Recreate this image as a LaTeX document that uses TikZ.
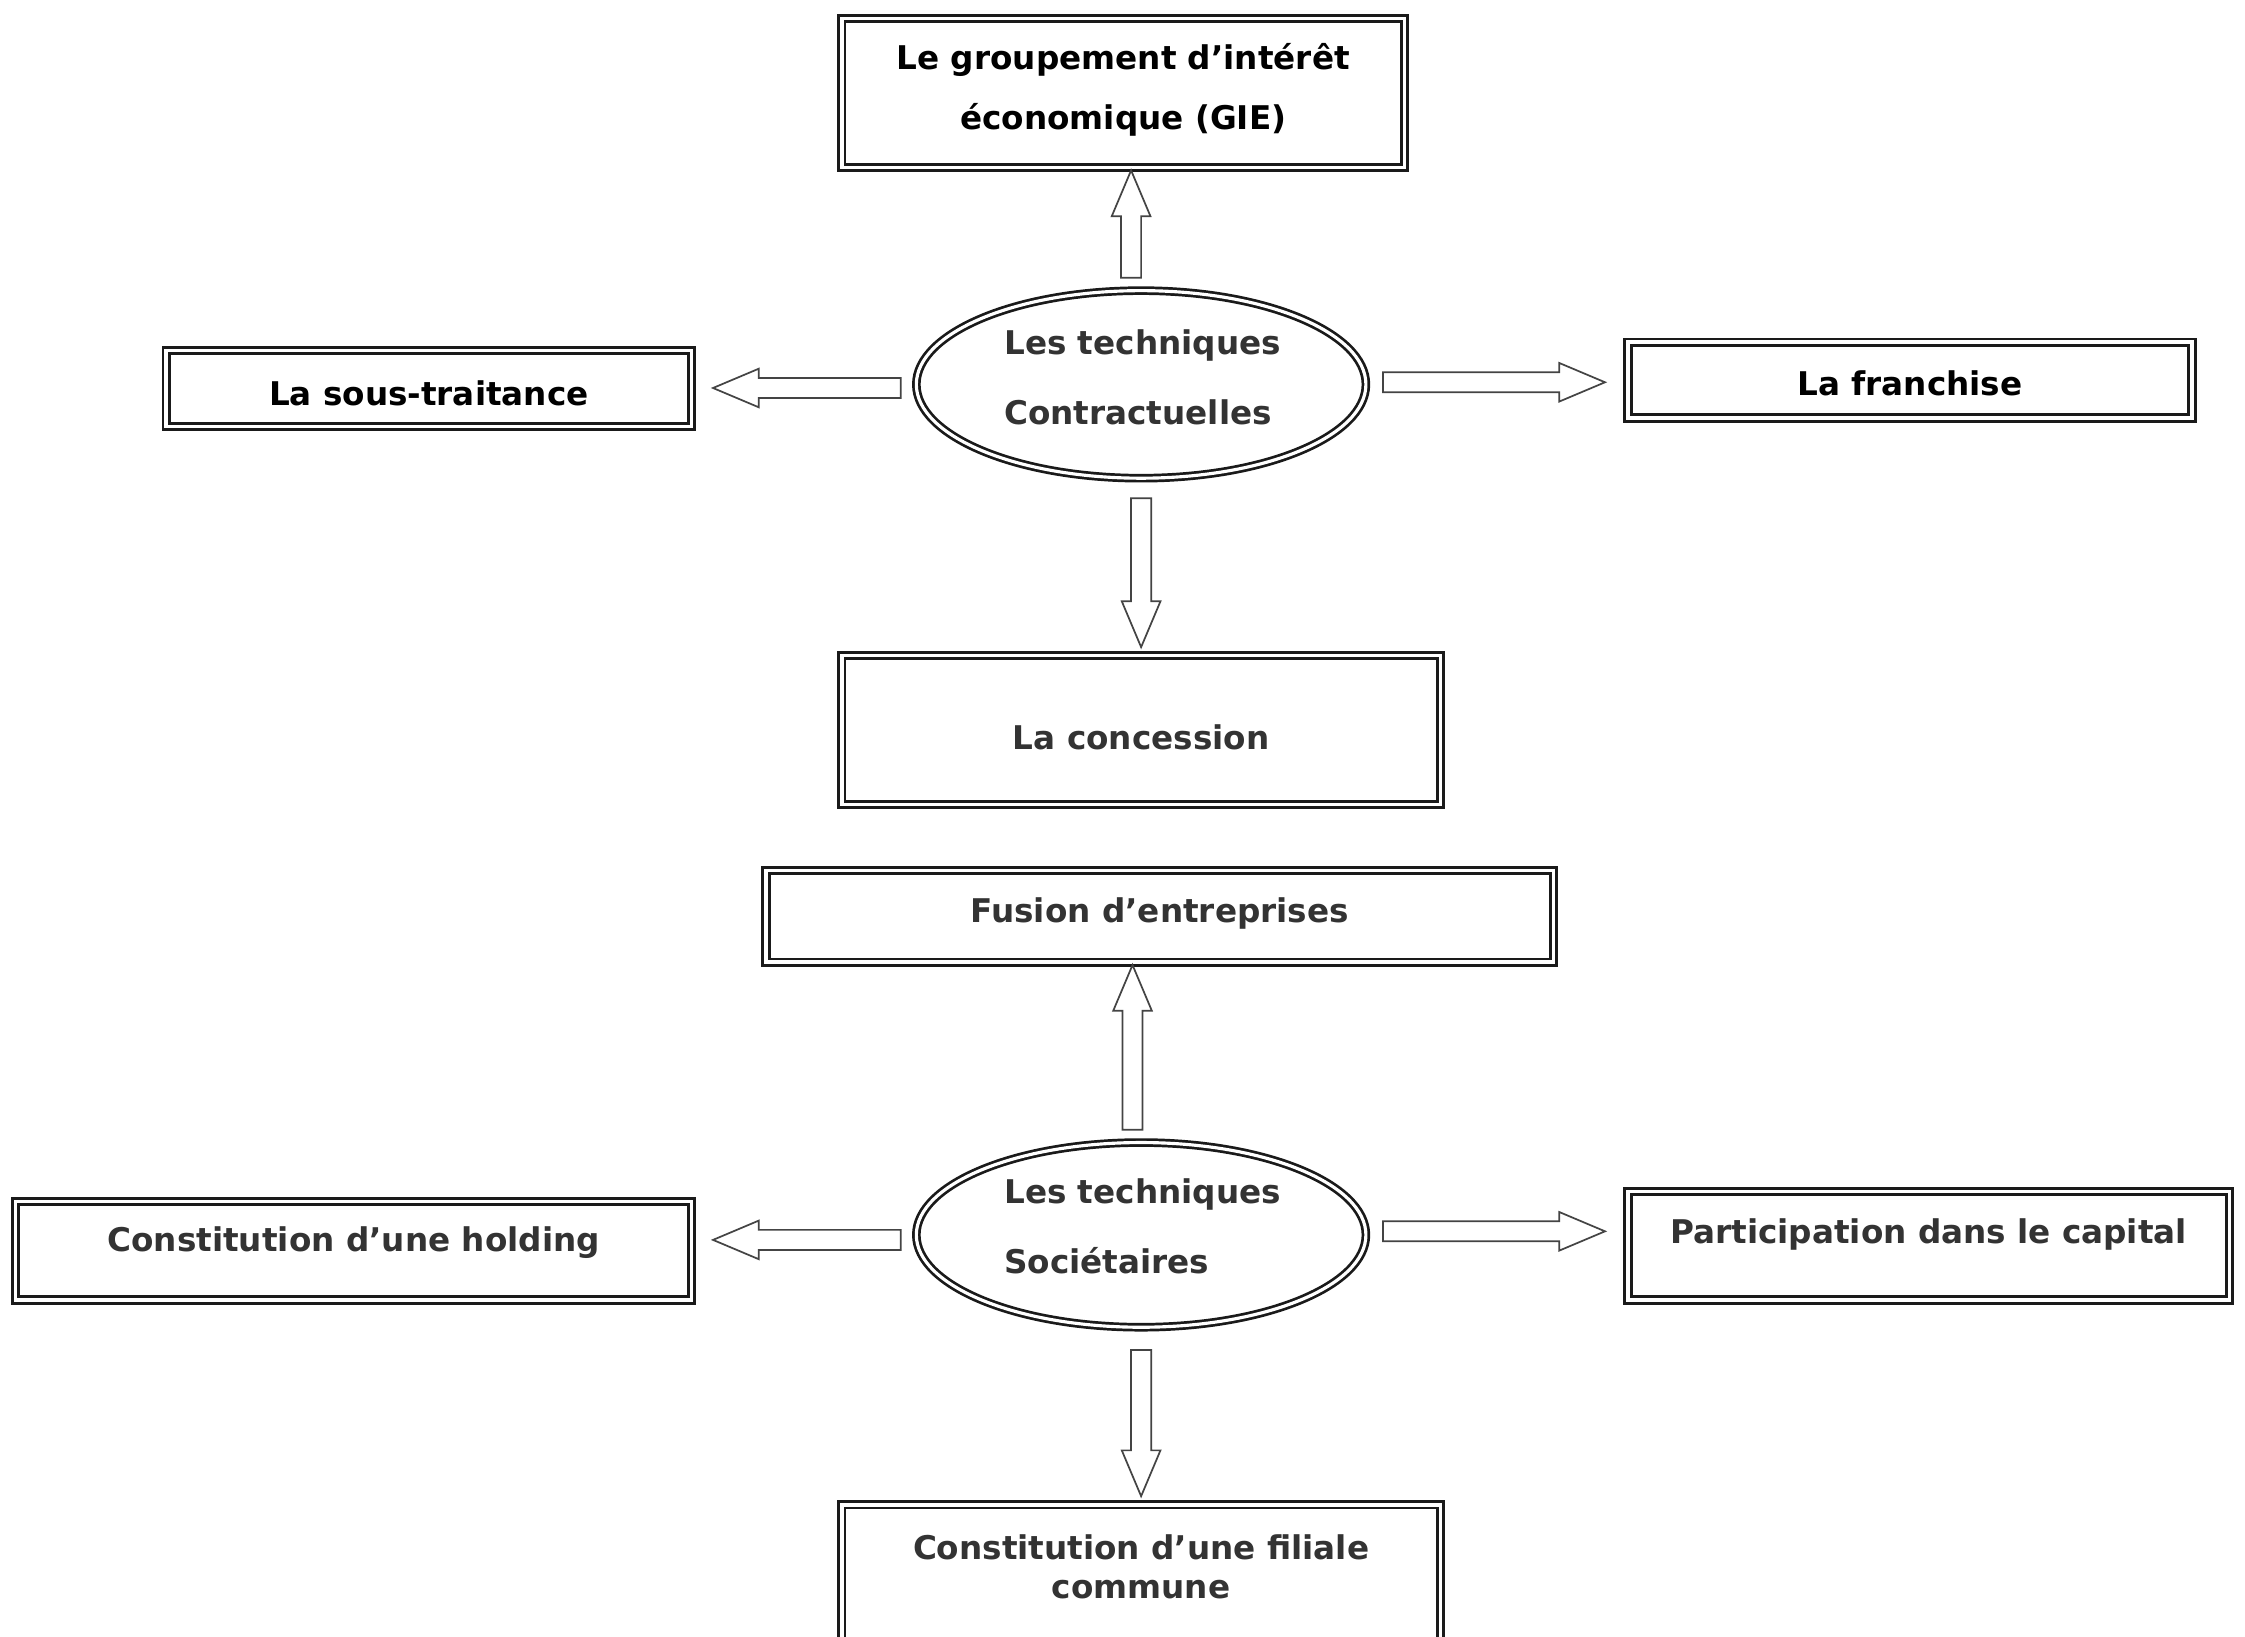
\documentclass[tikz,border=0pt]{standalone}
\usepackage{fontspec}
\setmainfont{DejaVu Sans}
\usetikzlibrary{calc,shapes.geometric}
\definecolor{ink}{HTML}{333333}
\definecolor{frame}{HTML}{1A1A1A}
\definecolor{arr}{HTML}{444444}
\tikzset{
  dbox/.style={draw=frame, double, double distance=1.2pt, line width=1pt, inner sep=0pt, rectangle},
  dell/.style={draw=frame, double, double distance=1.1pt, line width=0.95pt, inner sep=0pt, ellipse},
  txt/.style={inner sep=0pt, text=ink, font=\fontsize{11.4}{13.5}\selectfont\bfseries, align=center},
  txtk/.style={txt, text=black},
  barrow/.style={draw=arr, line width=0.6pt, fill=white, line join=miter},
}
\newcommand\blockarrow[2]{%
  \draw[barrow] let \p1=(#1), \p2=(#2), \n1={atan2(\y2-\y1,\x2-\x1)}, \n2={veclen(\x2-\x1,\y2-\y1)} in
  [shift={(\p1)}, rotate=\n1]
  (0pt,-3.5pt) -- ({\n2-16pt},-3.5pt) -- ({\n2-16pt},-6.75pt) -- (\n2,0pt)
  -- ({\n2-16pt},6.75pt) -- ({\n2-16pt},3.5pt) -- (0pt,3.5pt) -- cycle;}
\begin{document}
\begin{tikzpicture}[x=0.5pt,y=-0.5pt]
\clip (0,0) rectangle (1568,1143);
\fill[white] (0,0) rectangle (1568,1143);

% ---- top group
\node[dell, minimum width=157pt, minimum height=65.5pt] (c1) at (797,268.5) {};
\node[txt, align=left, font=\fontsize{11.4}{24.5}\selectfont\bfseries] (c1t) at (798,263.5) {Les techniques\\Contractuelles};

\node[dbox, minimum width=196.5pt, minimum height=52pt] (gie) at (784.5,65) {};
\node[txtk, font=\fontsize{11.4}{21}\selectfont\bfseries] (giet) at (784.5,63) {Le groupement d’intérêt\\économique (GIE)};

\node[dbox, minimum width=183.5pt, minimum height=26.5pt] (st) at (299.5,271.5) {};
\node[txtk] (stt) at (299.5,275) {La sous-traitance};

\node[dbox, minimum width=197pt, minimum height=26.5pt] (fr) at (1334,265.5) {};
\node[txtk] (frt) at (1334,268) {La franchise};

\node[dbox, minimum width=209pt, minimum height=52pt] (con) at (797,510) {};
\node[txt] (cont) at (797,515) {La concession};

% ---- bottom group
\node[dell, minimum width=157pt, minimum height=64.5pt] (c2) at (797,862.5) {};
\node[txt, align=left, font=\fontsize{11.4}{24.5}\selectfont\bfseries] (c2t) at (798,856.5) {Les techniques\\Sociétaires};

\node[dbox, minimum width=275pt, minimum height=32pt] (fus) at (810,640) {};
\node[txt] (fust) at (810,638) {Fusion d’entreprises};

\node[dbox, minimum width=236pt, minimum height=34.5pt] (hold) at (247,873.5) {};
\node[txt] (holdt) at (247,868) {Constitution d’une holding};

\node[dbox, minimum width=210pt, minimum height=38pt] (part) at (1347,870) {};
\node[txt] (partt) at (1347,862) {Participation dans le capital};

\node[dbox, minimum width=209pt, minimum height=52pt] (fil) at (797,1103) {};
\node[txt] (filt) at (797,1094.5) {Constitution d’une filiale\\commune};

% ---- arrows
\coordinate (a1s) at ($(c1.north)+(-7,-8)$);
\coordinate (a1e) at ($(a1s |- gie.south)+(0,1)$);
\blockarrow{a1s}{a1e}

\coordinate (a2s) at ($(c1.west)+(-10,2.5)$);
\coordinate (a2e) at ($(a2s -| st.east)+(14,0)$);
\blockarrow{a2s}{a2e}

\coordinate (a3s) at ($(c1.east)+(11,-1.5)$);
\coordinate (a3e) at ($(a3s -| fr.west)+(-15,0)$);
\blockarrow{a3s}{a3e}

\coordinate (a4s) at ($(c1.south)+(0,13)$);
\coordinate (a4e) at ($(a4s |- con.north)+(0,-5)$);
\blockarrow{a4s}{a4e}

\coordinate (a5s) at ($(c2.north)+(-6,-8)$);
\coordinate (a5e) at ($(a5s |- fus.south)+(0,1)$);
\blockarrow{a5s}{a5e}

\coordinate (a6s) at ($(c2.west)+(-10,3.5)$);
\coordinate (a6e) at ($(a6s -| hold.east)+(14,0)$);
\blockarrow{a6s}{a6e}

\coordinate (a7s) at ($(c2.east)+(11,-2.5)$);
\coordinate (a7e) at ($(a7s -| part.west)+(-15,0)$);
\blockarrow{a7s}{a7e}

\coordinate (a8s) at ($(c2.south)+(0,15)$);
\coordinate (a8e) at ($(a8s |- fil.north)+(0,-5)$);
\blockarrow{a8s}{a8e}
\end{tikzpicture}
\end{document}
